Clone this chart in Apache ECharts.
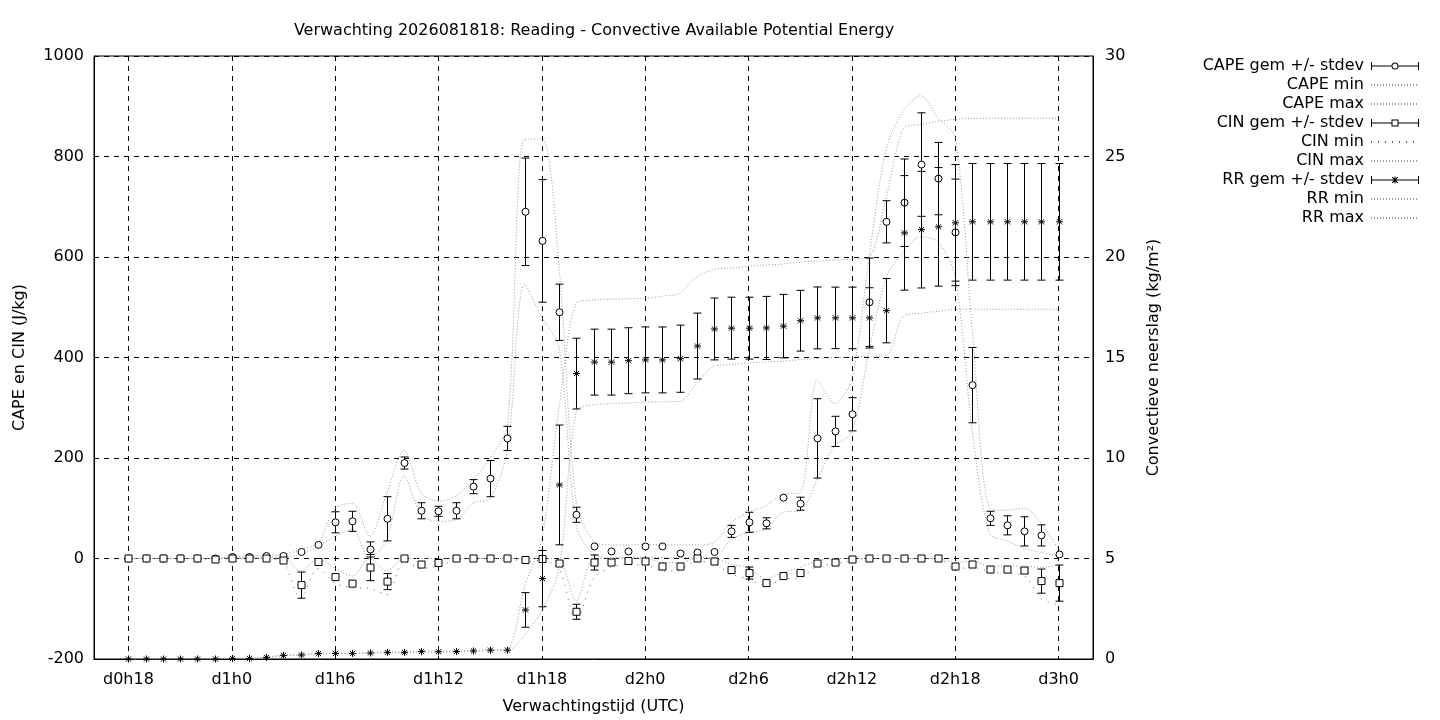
<!DOCTYPE html>
<html>
<head>
<meta charset="utf-8">
<title>Verwachting 2026081818: Reading - CAPE</title>
<script src="https://cdn.jsdelivr.net/npm/echarts@6/dist/echarts.min.js"></script>
<style>
  html, body { margin: 0; padding: 0; background: #fff; }
  #chart { width: 1440px; height: 720px; }
</style>
</head>
<body>
<div id="chart"></div>
<script>
// uren sinds d0h18, een punt per uur (index = uur)
var tickHours  = [0, 6, 12, 18, 24, 30, 36, 42, 48, 54];
var tickLabels = ['d0h18', 'd1h0', 'd1h6', 'd1h12', 'd1h18', 'd2h0', 'd2h6', 'd2h12', 'd2h18', 'd3h0'];

// CAPE (J/kg)
var capeGem = [0, 0, 0, 0, 0, 0, 3, 3, 5, 5, 13, 27, 72, 74, 18, 79, 190, 95, 94, 95,
               143, 159, 239, 690, 632, 490, 87, 24, 14, 14, 24, 24, 10, 12, 13, 54, 72, 70, 121, 109,
               239, 253, 287, 510, 670, 708, 784, 756, 649, 345, 80, 66, 54, 46, 8];
var capeStd = [0, 0, 0, 0, 0, 0, 0, 0, 0, 0, 0, 0, 21, 20, 15, 44, 12, 16, 10, 16,
               14, 36, 24, 107, 122, 56, 15, 0, 0, 0, 0, 0, 0, 0, 0, 12, 20, 11, 0, 13,
               79, 30, 33, 88, 42, 87, 103, 72, 106, 75, 14, 19, 29, 21, 0];
var capeMin = [0, 0, 0, 0, 0, 0, 2, 2, 3, 3, 8, 25, 44, 58, 0, 38, 164, 87, 74, 77,
               110, 120, 215, 545, 480, 420, 65, 9, 2, 2, 2, 2, 2, 2, 2, 38, 52, 58, 92, 95,
               158, 224, 251, 413, 560, 610, 640, 630, 560, 250, 50, 35, 20, 12, 5];
var capeMax = [0, 0, 0, 0, 0, 0, 4, 5, 7, 8, 18, 31, 100, 110, 44, 130, 216, 130, 114, 124,
               157, 200, 265, 835, 835, 580, 110, 35, 27, 27, 28, 27, 27, 27, 32, 72, 92, 105, 128, 131,
               354, 308, 357, 600, 816, 891, 921, 876, 839, 450, 100, 96, 100, 70, 18];

// CIN (J/kg)
var cinGem = [0, 0, 0, 0, 0, -2, 0, 0, 0, -4, -53, -7, -37, -50, -18, -46, 0, -12, -9, 0,
              0, 0, 0, -3, -1, -10, -106, -8, -8, -5, -6, -16, -16, 0, -6, -23, -29, -49, -35, -29,
              -10, -8, -2, 0, 0, 0, 0, 0, -16, -12, -22, -22, -24, -45, -49];
var cinStd = [0, 0, 0, 0, 0, 0, 0, 0, 0, 0, 26, 0, 0, 0, 26, 16, 0, 0, 0, 0,
              0, 0, 0, 0, 0, 4, 15, 15, 0, 0, 0, 0, 0, 0, 0, 0, 12, 0, 0, 0,
              0, 0, 0, 0, 0, 0, 0, 0, 0, 0, 0, 0, 5, 24, 36];
var cinMin = [0, 0, 0, 0, 0, -3, 0, 0, 0, -10, -80, -20, -50, -58, -60, -72, -5, -20, -15, -3,
              0, 0, 0, -6, -4, -20, -125, -40, -18, -12, -12, -25, -23, -5, -11, -31, -41, -54, -41, -38,
              -15, -11, -4, 0, 0, 0, 0, 0, -20, -18, -26, -30, -34, -80, -92];
var cinMax = [0, 0, 0, 0, 0, 0, 0, 0, 0, 0, -25, 0, -20, -35, 0, -25, 0, 0, 0, 0,
              0, 0, 0, 0, 0, -3, -85, 0, 0, 0, 0, -8, -8, 0, 0, -12, -18, -40, -28, -18,
              -4, 0, 0, 0, 0, 0, 0, 0, -8, -5, -15, -15, -15, -18, -12];

// RR convectieve neerslag (kg/m2)
var rrGem = [0, 0, 0, 0, 0, 0, 0.03, 0.03, 0.08, 0.18, 0.2, 0.27, 0.28, 0.28, 0.3, 0.33, 0.33, 0.37, 0.36, 0.37,
             0.4, 0.44, 0.44, 2.44, 4.0, 8.66, 14.2, 14.77, 14.77, 14.84, 14.88, 14.88, 14.94, 15.57, 16.42, 16.46, 16.46, 16.47, 16.56, 16.83,
             16.97, 16.97, 16.97, 16.97, 17.33, 21.2, 21.36, 21.5, 21.7, 21.75, 21.75, 21.75, 21.75, 21.75, 21.75];
var rrStd = [0, 0, 0, 0, 0, 0, 0, 0, 0, 0, 0, 0, 0, 0, 0, 0, 0, 0, 0, 0,
             0, 0, 0, 0.86, 1.4, 2.98, 1.76, 1.64, 1.64, 1.64, 1.64, 1.64, 1.67, 1.64, 1.54, 1.54, 1.54, 1.57, 1.58, 1.51,
             1.54, 1.53, 1.53, 1.5, 1.6, 2.85, 2.9, 2.95, 2.9, 2.9, 2.9, 2.9, 2.9, 2.9, 2.9];
var rrMin = [0, 0, 0, 0, 0, 0, 0, 0, 0.05, 0.15, 0.18, 0.25, 0.26, 0.26, 0.28, 0.3, 0.3, 0.34, 0.34, 0.35,
             0.38, 0.42, 0.42, 1.2, 2.4, 4.5, 12.3, 12.66, 12.7, 12.74, 12.78, 12.8, 12.82, 13.7, 14.57, 14.65, 14.73, 14.78, 14.82, 14.9,
             14.95, 15.0, 15.03, 15.06, 15.1, 17.06, 17.2, 17.3, 17.4, 17.4, 17.4, 17.4, 17.4, 17.4, 17.4];
var rrMax = [0, 0, 0, 0, 0, 0, 0.05, 0.05, 0.1, 0.2, 0.22, 0.3, 0.3, 0.3, 0.32, 0.35, 0.35, 0.4, 0.4, 0.4,
             0.42, 0.46, 0.5, 3.6, 6.0, 12.5, 17.7, 17.86, 17.9, 17.92, 17.95, 18.05, 18.2, 19.0, 19.38, 19.45, 19.55, 19.6, 19.65, 19.75,
             19.8, 19.85, 19.9, 20.0, 23.0, 26.4, 26.6, 26.75, 26.85, 26.9, 26.9, 26.9, 26.9, 26.9, 26.9];

var FONT = 'DejaVu Sans';
var FSIZE = 16;
var GRIJS = '#9a9a9a';

function pairs(arr) {
    return arr.map(function (v, k) { return [k, v]; });
}
function triples(gem, std) {
    return gem.map(function (v, k) { return [k, v, std[k]]; });
}

// markers zoals gnuplot: open cirkel, open vierkant, sterretje
function cirkel(x, y) {
    return { type: 'circle', shape: { cx: x, cy: y, r: 3.5 }, style: { fill: '#fff', stroke: '#000', lineWidth: 1 } };
}
function vierkant(x, y) {
    return { type: 'rect', shape: { x: x - 3.5, y: y - 3.5, width: 7, height: 7 }, style: { fill: '#fff', stroke: '#000', lineWidth: 1 } };
}
function ster(x, y) {
    var s = { stroke: '#000', lineWidth: 1 };
    return { type: 'group', children: [
        { type: 'line', shape: { x1: x - 3.5, y1: y, x2: x + 3.5, y2: y }, style: s },
        { type: 'line', shape: { x1: x, y1: y - 3.5, x2: x, y2: y + 3.5 }, style: s },
        { type: 'line', shape: { x1: x - 2.6, y1: y - 2.6, x2: x + 2.6, y2: y + 2.6 }, style: s },
        { type: 'line', shape: { x1: x - 2.6, y1: y + 2.6, x2: x + 2.6, y2: y - 2.6 }, style: s }
    ] };
}

function foutbalk(marker) {
    return function (params, api) {
        var x = api.value(0), m = api.value(1), s = api.value(2);
        var p = api.coord([x, m]);
        var px = Math.round(p[0]) + 0.5;
        var kids = [];
        if (s > 0) {
            var hi = api.coord([x, m + s])[1];
            var lo = api.coord([x, m - s])[1];
            var st = { stroke: '#000', lineWidth: 1 };
            kids.push({ type: 'line', shape: { x1: px, y1: hi, x2: px, y2: lo }, style: st });
            kids.push({ type: 'line', shape: { x1: px - 4, y1: hi, x2: px + 4, y2: hi }, style: st });
            kids.push({ type: 'line', shape: { x1: px - 4, y1: lo, x2: px + 4, y2: lo }, style: st });
        }
        kids.push(marker(px, p[1]));
        return { type: 'group', children: kids };
    };
}

// legenda-iconen |--o--|, |--[]--|, |--*--|
var capInks = 'M0,1 L1,1 L1,9 L0,9 Z M47,1 L48,1 L48,9 L47,9 Z ';
var iconCape = 'path://' + capInks +
    'M1,4.5 L20.5,4.5 L20.5,5.5 L1,5.5 Z M27.5,4.5 L47,4.5 L47,5.5 L27.5,5.5 Z ' +
    'M20.5,5 A3.5,3.5 0 1,1 27.5,5 A3.5,3.5 0 1,1 20.5,5 Z M21.5,5 A2.5,2.5 0 1,0 26.5,5 A2.5,2.5 0 1,0 21.5,5 Z';
var iconCin = 'path://' + capInks +
    'M1,4.5 L20.5,4.5 L20.5,5.5 L1,5.5 Z M27.5,4.5 L47,4.5 L47,5.5 L27.5,5.5 Z ' +
    'M20.5,1.5 L27.5,1.5 L27.5,8.5 L20.5,8.5 Z M21.5,2.5 L21.5,7.5 L26.5,7.5 L26.5,2.5 Z';
var iconRR = 'path://' + capInks +
    'M1,4.5 L47,4.5 L47,5.5 L1,5.5 Z M23.5,1.5 L24.5,1.5 L24.5,8.5 L23.5,8.5 Z ' +
    'M20.8,2.6 L21.6,1.8 L27.2,7.4 L26.4,8.2 Z M26.4,1.8 L27.2,2.6 L21.6,8.2 L20.8,7.4 Z';

function stippel(name, data, yIdx, color, dash) {
    return {
        name: name, type: 'line', yAxisIndex: yIdx, data: pairs(data),
        symbol: 'none', smooth: 0.3, silent: true, z: 1,
        itemStyle: { color: 'rgba(0,0,0,0)', borderWidth: 0 },
        lineStyle: { color: color, width: 1, type: dash }
    };
}

var tekst = { fontFamily: FONT, fontSize: FSIZE, color: '#000' };

var chart = echarts.init(document.getElementById('chart'));
chart.setOption({
    animation: false,
    backgroundColor: '#fff',
    textStyle: { fontFamily: FONT, color: '#000' },
    title: {
        text: 'Verwachting 2026081818: Reading - Convective Available Potential Energy',
        left: 589, top: 18, textAlign: 'center',
        textStyle: { fontFamily: FONT, fontSize: FSIZE, fontWeight: 'normal', color: '#000' }
    },
    legend: {
        orient: 'vertical', right: 15, top: 53, align: 'right',
        itemWidth: 48, itemHeight: 8, itemGap: 3,
        textStyle: { fontFamily: FONT, fontSize: FSIZE, color: '#000', padding: [0, 2, 0, 0] },
        data: [
            { name: 'CAPE gem +/- stdev', icon: iconCape },
            'CAPE min', 'CAPE max',
            { name: 'CIN gem +/- stdev', icon: iconCin },
            'CIN min', 'CIN max',
            { name: 'RR gem +/- stdev', icon: iconRR },
            'RR min', 'RR max'
        ]
    },
    grid: { left: 94, right: 347, top: 56, bottom: 61, show: true, borderColor: '#000', borderWidth: 1 },
    xAxis: {
        type: 'value', min: -2, max: 56,
        name: 'Verwachtingstijd (UTC)', nameLocation: 'middle', nameGap: 40,
        nameTextStyle: tekst,
        axisLine: { show: true, onZero: false, lineStyle: { color: '#000', width: 1 } },
        axisTick: { show: false, customValues: tickHours },
        axisLabel: {
            customValues: tickHours, margin: 13,
            fontFamily: FONT, fontSize: FSIZE, color: '#000',
            formatter: function (v) { return tickLabels[tickHours.indexOf(v)]; }
        },
        splitLine: { show: true, lineStyle: { color: '#000', width: 1, type: [5, 5] } }
    },
    yAxis: [{
        type: 'value', min: -200, max: 1000, interval: 200,
        name: 'CAPE en CIN (J/kg)', nameLocation: 'middle', nameGap: 66,
        nameTextStyle: tekst,
        axisLine: { show: true, onZero: false, lineStyle: { color: '#000', width: 1 } },
        axisTick: { show: false },
        axisLabel: {
            margin: 10, fontFamily: FONT, fontSize: FSIZE, color: '#000',
            formatter: function (v) { return String(v); }
        },
        splitLine: { show: true, lineStyle: { color: '#000', width: 1, type: [5, 5] } }
    }, {
        type: 'value', min: 0, max: 30, interval: 5, position: 'right',
        name: 'Convectieve neerslag (kg/m²)', nameLocation: 'middle', nameGap: 53, nameRotate: 90,
        nameTextStyle: tekst,
        axisLine: { show: true, onZero: false, lineStyle: { color: '#000', width: 1 } },
        axisTick: { show: false },
        axisLabel: {
            margin: 12, fontFamily: FONT, fontSize: FSIZE, color: '#000',
            formatter: function (v) { return String(v); }
        },
        splitLine: { show: false }
    }],
    series: [
        stippel('CAPE min', capeMin, 0, GRIJS, [1, 2]),
        stippel('CAPE max', capeMax, 0, GRIJS, [1, 2]),
        stippel('CIN min', cinMin, 0, '#606060', [1, 6]),
        stippel('CIN max', cinMax, 0, GRIJS, [1, 2]),
        stippel('RR min', rrMin, 1, GRIJS, [1, 2]),
        stippel('RR max', rrMax, 1, GRIJS, [1, 2]),
        {
            name: 'CAPE gem +/- stdev', type: 'custom', yAxisIndex: 0, z: 3,
            data: triples(capeGem, capeStd), renderItem: foutbalk(cirkel),
            itemStyle: { color: '#000' }, silent: true
        },
        {
            name: 'CIN gem +/- stdev', type: 'custom', yAxisIndex: 0, z: 4,
            data: triples(cinGem, cinStd), renderItem: foutbalk(vierkant),
            itemStyle: { color: '#000' }, silent: true
        },
        {
            name: 'RR gem +/- stdev', type: 'custom', yAxisIndex: 1, z: 5,
            data: triples(rrGem, rrStd), renderItem: foutbalk(ster),
            itemStyle: { color: '#000' }, silent: true
        }
    ]
});
</script>
</body>
</html>
